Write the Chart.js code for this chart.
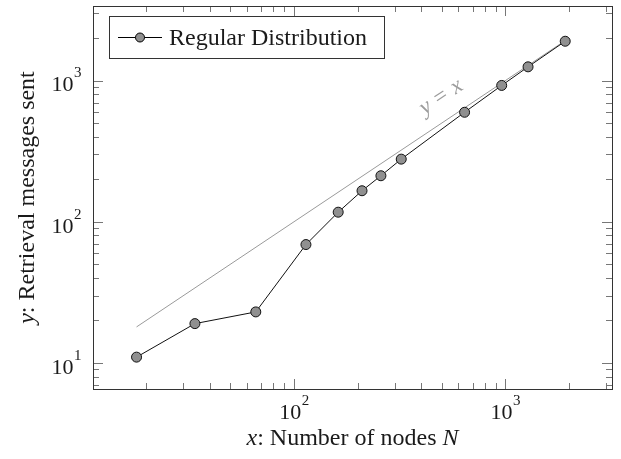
<!DOCTYPE html>
<html>
<head>
<meta charset="utf-8">
<script src="https://cdn.jsdelivr.net/npm/chart.js@4.4.1/dist/chart.umd.min.js"></script>
<style>
  html, body { margin: 0; padding: 0; background: #fff; }
  canvas { display: block; }
</style>
</head>
<body>
<canvas id="chart" width="621" height="459"></canvas>
<script>
// Data
const nodes = [18, 34, 66, 114, 162, 210, 258, 322, 642, 962, 1282, 1922];
const messages = [11, 19, 23, 69, 117, 166, 212, 278, 597, 925, 1253, 1902];
const refX = [18, 1922];           // y = x reference line end points
const seriesLabel = 'Regular Distribution';

// Axis ranges and ticks
const xRange = [11.2, 3200];
const yRange = [6.54, 3380];
const majorTicks = [10, 100, 1000];
const majorExp = ['1', '2', '3'];
const minorX = [20, 30, 40, 50, 60, 70, 80, 90, 200, 300, 400, 500, 600, 700, 800, 900, 2000, 3000];
const minorY = [7, 8, 9, 20, 30, 40, 50, 60, 70, 80, 90, 200, 300, 400, 500, 600, 700, 800, 900, 2000, 3000];
const refLabelAt = 568;

const SERIF = '"Liberation Serif", "Times New Roman", serif';
const TEXT = '#1a1a1a';
const FRAME = '#333';
const MARK_FILL = '#909090';

function drawParts(ctx, parts, x, y, align) {
    // parts: {t, font, gap}
    let total = 0;
    parts.forEach(p => { ctx.font = p.font; total += ctx.measureText(p.t).width + (p.gap || 0); });
    let cx = align === 'center' ? x - total / 2 : (align === 'right' ? x - total : x);
    parts.forEach(p => {
        ctx.font = p.font;
        ctx.fillText(p.t, cx, y);
        cx += ctx.measureText(p.t).width + (p.gap || 0);
    });
}

const pgfPlugin = {
    id: 'pgfPlugin',
    afterDraw(chart) {
        const ctx = chart.ctx;
        const a = chart.chartArea;
        const xs = chart.scales.x, ys = chart.scales.y;
        ctx.save();

        // tick marks, inward on all four sides
        ctx.strokeStyle = '#777';
        ctx.lineWidth = 1;
        const tick = (v, len, axis) => {
            if (axis === 'x') {
                const p = Math.round(xs.getPixelForValue(v)) + 0.5;
                if (p < a.left || p > a.right) return;
                ctx.beginPath();
                ctx.moveTo(p, a.bottom); ctx.lineTo(p, a.bottom - len);
                ctx.moveTo(p, a.top); ctx.lineTo(p, a.top + len);
                ctx.stroke();
            } else {
                const p = Math.round(ys.getPixelForValue(v)) + 0.5;
                if (p < a.top || p > a.bottom) return;
                ctx.beginPath();
                ctx.moveTo(a.left, p); ctx.lineTo(a.left + len, p);
                ctx.moveTo(a.right, p); ctx.lineTo(a.right - len, p);
                ctx.stroke();
            }
        };
        minorX.forEach(v => tick(v, 6, 'x'));
        minorY.forEach(v => tick(v, 6, 'y'));
        majorTicks.forEach(v => { tick(v, 10, 'x'); tick(v, 10, 'y'); });

        // frame
        ctx.strokeStyle = FRAME;
        ctx.strokeRect(Math.round(a.left) + 0.5, Math.round(a.top) + 0.5,
            Math.round(a.right - a.left), Math.round(a.bottom - a.top));

        // tick labels 10^k
        ctx.fillStyle = TEXT;
        ctx.textBaseline = 'alphabetic';
        const baseFont = '22px ' + SERIF, expFont = '15px ' + SERIF;
        majorTicks.forEach((v, i) => {
            ctx.font = baseFont; const w1 = ctx.measureText('10').width;
            ctx.font = expFont; const w2 = ctx.measureText(majorExp[i]).width;
            const draw = (x0, base) => {
                ctx.font = baseFont; ctx.fillText('10', x0, base);
                ctx.font = expFont; ctx.fillText(majorExp[i], x0 + w1 + 0.5, base - 14);
            };
            if (v >= xs.min && v <= xs.max) {
                const px = xs.getPixelForValue(v);
                draw(px - (w1 + w2) / 2, a.bottom + 30);
            }
            if (v >= ys.min && v <= ys.max) {
                const py = ys.getPixelForValue(v);
                draw(a.left - 11.5 - (w1 + w2 + 0.5), py + 10.7);
            }
        });

        // axis titles
        const tFont = '24px ' + SERIF, tItal = 'italic 24px ' + SERIF;
        drawParts(ctx, [
            { t: 'x', font: tItal }, { t: ': Number of nodes ', font: tFont }, { t: 'N', font: tItal }
        ], (a.left + a.right) / 2, 444.6, 'center');
        ctx.save();
        ctx.translate(33.5, (a.top + a.bottom) / 2);
        ctx.rotate(-Math.PI / 2);
        drawParts(ctx, [
            { t: 'y', font: tItal }, { t: ': Retrieval messages sent', font: tFont }
        ], 0, 0, 'center');
        ctx.restore();

        // y = x label along the reference line
        const p0x = xs.getPixelForValue(refX[0]), p0y = ys.getPixelForValue(refX[0]);
        const p1x = xs.getPixelForValue(refX[1]), p1y = ys.getPixelForValue(refX[1]);
        const ang = Math.atan2(p1y - p0y, p1x - p0x);
        const lx = xs.getPixelForValue(refLabelAt), ly = ys.getPixelForValue(refLabelAt);
        ctx.save();
        ctx.translate(lx, ly);
        ctx.rotate(ang);
        ctx.fillStyle = '#9c9c9c';
        drawParts(ctx, [
            { t: 'y', font: 'italic 23px ' + SERIF, gap: 7 },
            { t: '=', font: '23px ' + SERIF, gap: 7 },
            { t: 'x', font: 'italic 23px ' + SERIF }
        ], 0, -16, 'center');
        ctx.restore();

        // legend
        const L = { x: 109.5, y: 16.5, w: 275, h: 42 };
        ctx.fillStyle = '#fff';
        ctx.fillRect(L.x, L.y, L.w, L.h);
        ctx.strokeStyle = FRAME;
        ctx.strokeRect(L.x, L.y, L.w, L.h);
        ctx.strokeStyle = '#000';
        ctx.beginPath(); ctx.moveTo(118, 37.5); ctx.lineTo(162, 37.5); ctx.stroke();
        ctx.beginPath(); ctx.arc(140, 37.5, 4.5, 0, Math.PI * 2);
        ctx.fillStyle = MARK_FILL; ctx.fill(); ctx.stroke();
        ctx.fillStyle = TEXT;
        ctx.font = '24px ' + SERIF;
        ctx.fillText(seriesLabel, 169, 45);

        ctx.restore();
    }
};

new Chart(document.getElementById('chart'), {
    type: 'line',
    data: {
        datasets: [
            {
                label: seriesLabel,
                data: nodes.map((x, i) => ({ x: x, y: messages[i] })),
                borderColor: '#111',
                borderWidth: 1,
                pointRadius: 5,
                pointBackgroundColor: MARK_FILL,
                pointBorderColor: '#111',
                pointBorderWidth: 1,
                tension: 0
            },
            {
                label: 'y = x',
                data: refX.map(x => ({ x: x, y: x })),
                borderColor: '#9a9a9a',
                borderWidth: 1,
                pointRadius: 0,
                tension: 0
            }
        ]
    },
    options: {
        responsive: false,
        devicePixelRatio: 1,
        animation: false,
        layout: { padding: { top: 4, right: 9, left: 0, bottom: 0 } },
        plugins: { legend: { display: false }, tooltip: { enabled: false } },
        scales: {
            x: {
                type: 'logarithmic', min: xRange[0], max: xRange[1],
                ticks: { display: false }, grid: { display: false }, border: { display: false },
                afterFit(s) { s.height = 70; }
            },
            y: {
                type: 'logarithmic', min: yRange[0], max: yRange[1],
                ticks: { display: false }, grid: { display: false }, border: { display: false },
                afterFit(s) { s.width = 93; }
            }
        }
    },
    plugins: [pgfPlugin]
});
</script>
</body>
</html>
